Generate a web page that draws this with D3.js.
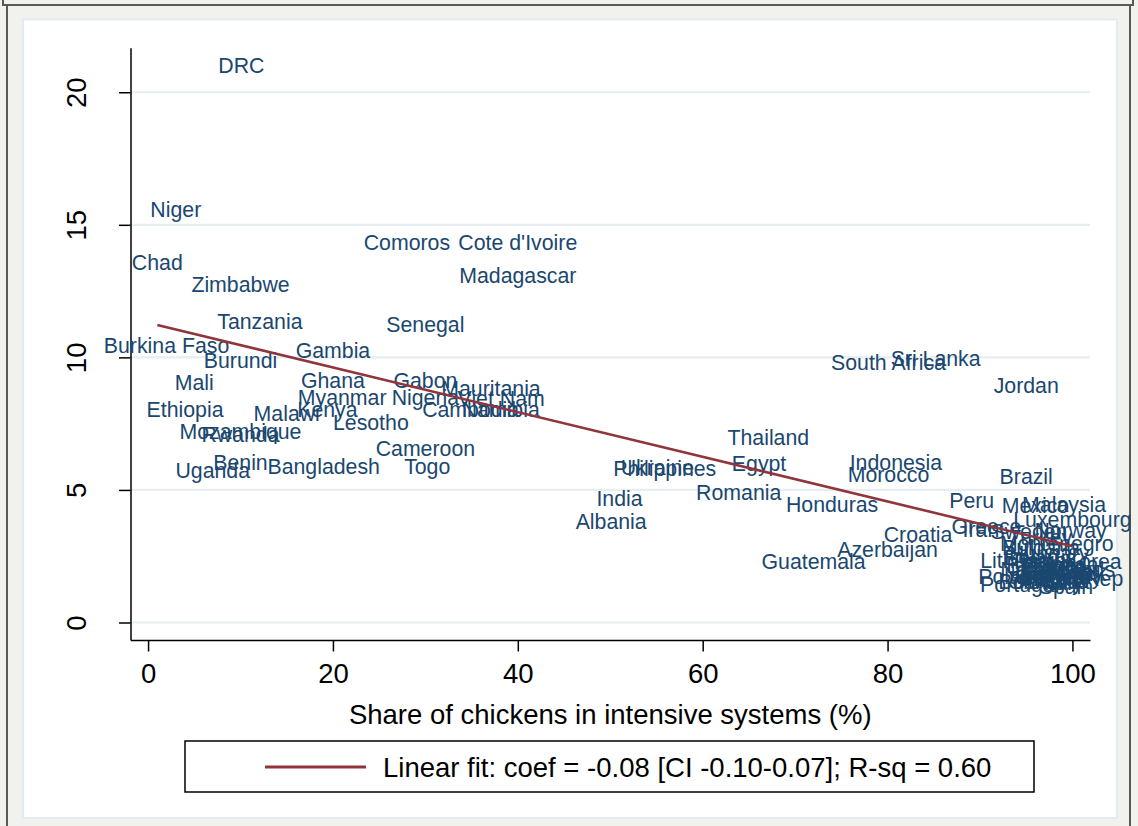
<!DOCTYPE html>
<html>
<head>
<meta charset="utf-8">
<script src="https://cdn.jsdelivr.net/npm/d3@7"></script>
<style>
  body { margin: 0; background: #f1f1ed; }
  svg { display: block; font-family: "Liberation Sans", Arial, sans-serif; }
  .axis path, .axis line { stroke: #000; stroke-width: 1.5px; }
  .axis text { fill: #000; font-size: 27.5px; font-family: "Liberation Sans", Arial, sans-serif; }
</style>
</head>
<body>
<div id="chart"></div>
<script>
// country labels (marker labels only, no symbols)
const countries = ["DRC", "Niger", "Chad", "Zimbabwe", "Comoros", "Cote d'Ivoire", "Madagascar",
  "Tanzania", "Senegal", "Burkina Faso", "Gambia", "Burundi", "Mali", "Ghana", "Gabon",
  "Mauritania", "Myanmar", "Nigeria", "Viet Nam", "Cambodia", "Namibia", "Kenya", "Malawi",
  "Ethiopia", "Lesotho", "Mozambique", "Rwanda", "Cameroon", "Benin", "Uganda", "Bangladesh",
  "Togo", "Thailand", "Egypt", "Ukraine", "Philippines", "India", "Albania", "Romania",
  "Honduras", "Guatemala", "South Africa", "Sri Lanka", "Jordan", "Indonesia", "Morocco",
  "Brazil", "Peru", "Mexico", "Malaysia", "Luxembourg", "Croatia", "Azerbaijan", "Greece",
  "Iran", "Sweden", "Norway", "Turkey", "Montenegro", "Bulgaria", "Hungary", "Belarus",
  "Lithuania", "Rep. Korea", "Belgium", "Canada", "Latvia", "Netherlands", "France", "Estonia",
  "Germany", "Denmark", "Poland", "Czech Rep", "Bosnia", "Austria", "Slovakia", "Portugal",
  "Spain", "Italy", "Finland", "Ireland"];
// share of chickens in intensive systems (%)
const intensiveShare = [10.1, 3.0, 1.0, 10.0, 28.0, 40.0, 40.0,
  12.1, 30.0, 2.0, 20.0, 10.0, 5.0, 20.0, 30.0,
  37.1, 21.0, 30.0, 38.2, 34.9, 38.15, 19.4, 15.0,
  4.0, 24.1, 10.0, 10.0, 30.0, 10.0, 7.0, 19.0,
  30.2, 67.1, 66.1, 55.1, 55.9, 51.0, 50.1, 63.9,
  74.0, 72.0, 80.1, 85.2, 95.0, 80.9, 80.1,
  95.0, 89.1, 96.0, 99.1, 100.0, 83.3, 80.0, 90.7,
  90.1, 95.3, 99.8, 96.5, 98.3, 96.6, 97.5, 96.5,
  94.7, 99.5, 97.0, 98.8, 97.5, 98.4, 98.0, 98.5,
  98.5, 99.0, 93.4, 99.8, 95.5, 98.0, 97.5, 94.3,
  99.3, 99.0, 98.2, 97.8];
// outcome (y axis)
const outcome = [21.0, 15.6, 13.6, 12.75, 14.35, 14.35, 13.1,
  11.35, 11.25, 10.45, 10.25, 9.9, 9.05, 9.15, 9.15,
  8.85, 8.5, 8.5, 8.45, 8.05, 8.05, 8.05, 7.9,
  8.05, 7.55, 7.2, 7.1, 6.55, 6.05, 5.75, 5.9,
  5.9, 7.0, 6.0, 5.85, 5.8, 4.7, 3.83, 4.9,
  4.45, 2.3, 9.8, 9.95, 8.95, 6.05, 5.6,
  5.5, 4.6, 4.43, 4.45, 3.9, 3.32, 2.76, 3.64,
  3.5, 3.45, 3.48, 3.2, 3.0, 2.85, 2.6, 2.45,
  2.35, 2.3, 2.15, 2.2, 2.0, 2.0, 2.1, 1.9,
  1.75, 1.85, 1.74, 1.65, 1.55, 1.6, 1.55, 1.43,
  1.37, 1.5, 1.8, 1.7];

// linear fit end points
const fitX = [1, 100];
const fitY = [11.22, 2.88];

const xTicks = [0, 20, 40, 60, 80, 100];
const yTicks = [0, 5, 10, 15, 20];
const xTitle = "Share of chickens in intensive systems (%)";
const legendText = "Linear fit: coef = -0.08 [CI -0.10-0.07]; R-sq = 0.60";

const W = 1138, H = 826;
const margin = { top: 47.7, left: 130.5, right: 48, bottom: 186 };
const width = W - margin.left - margin.right;
const height = H - margin.top - margin.bottom;
const navy = "#1a476f", maroon = "#90353b";

const svg = d3.select("#chart").append("svg")
  .attr("width", W)
  .attr("height", H);

// outer frame + white graph region
svg.append("rect").attr("width", W).attr("height", H).attr("fill", "#f1f1ed");
svg.append("path")
  .attr("d", "M3,0V5H1133V0M7,5V826M1130,5V826")
  .attr("fill", "none").attr("stroke", "#5a5a55").attr("stroke-width", 2);
svg.append("rect")
  .attr("x", 23).attr("y", 19.5).attr("width", 1094).attr("height", 798.5)
  .attr("fill", "#fff").attr("stroke", "#e3ebf2").attr("stroke-width", 2);

const g = svg.append("g").attr("transform", `translate(${margin.left},${margin.top})`);

const x = d3.scaleLinear().domain([-1.9, 101.9]).range([0, width]);
const y = d3.scaleLinear().domain([-0.66, 21.68]).range([height, 0]);

// grid
g.selectAll(".grid").data(yTicks).enter().append("line")
  .attr("class", "grid")
  .attr("x1", 0).attr("x2", width)
  .attr("y1", d => y(d)).attr("y2", d => y(d))
  .attr("stroke", "#e6eef1").attr("stroke-width", 2.2);

// axes
g.append("g").attr("class", "axis")
  .attr("transform", `translate(0,${height})`)
  .call(d3.axisBottom(x).tickValues(xTicks).tickSize(11.5).tickSizeOuter(0).tickPadding(12))
  .call(a => a.selectAll("text").attr("dy", "0.72em"));

const yAxis = g.append("g").attr("class", "axis")
  .call(d3.axisLeft(y).tickValues(yTicks).tickSize(11.5).tickSizeOuter(0));
yAxis.selectAll(".tick text")
  .attr("x", null).attr("dy", null)
  .attr("text-anchor", "middle")
  .attr("transform", "translate(-44.5,0) rotate(-90)");

// marker labels
const pts = countries.map((c, i) => ({ name: c, x: intensiveShare[i], y: outcome[i] }));
g.selectAll(".mlab").data(pts).enter().append("text")
  .attr("class", "mlab")
  .attr("x", d => x(d.x))
  .attr("y", d => y(d.y))
  .attr("dy", "0.36em")
  .attr("text-anchor", "middle")
  .attr("font-size", "21.3px")
  .attr("fill", navy)
  .text(d => d.name);

// fitted line
const fit = fitX.map((v, i) => [v, fitY[i]]);
g.append("path")
  .datum(fit)
  .attr("d", d3.line().x(d => x(d[0])).y(d => y(d[1])))
  .attr("fill", "none").attr("stroke", maroon).attr("stroke-width", 2.6);

// x title
svg.append("text")
  .attr("x", margin.left + width / 2).attr("y", 724)
  .attr("text-anchor", "middle").attr("font-size", "27.5px")
  .text(xTitle);

// legend
const lg = svg.append("g").attr("transform", "translate(185,741)");
lg.append("rect").attr("width", 849).attr("height", 51)
  .attr("fill", "#fff").attr("stroke", "#000").attr("stroke-width", 1.5);
lg.append("line").attr("x1", 80).attr("x2", 181).attr("y1", 26).attr("y2", 26)
  .attr("stroke", maroon).attr("stroke-width", 3);
lg.append("text").attr("x", 198).attr("y", 26).attr("dy", "0.36em")
  .attr("font-size", "27.5px").text(legendText);
</script>
</body>
</html>
